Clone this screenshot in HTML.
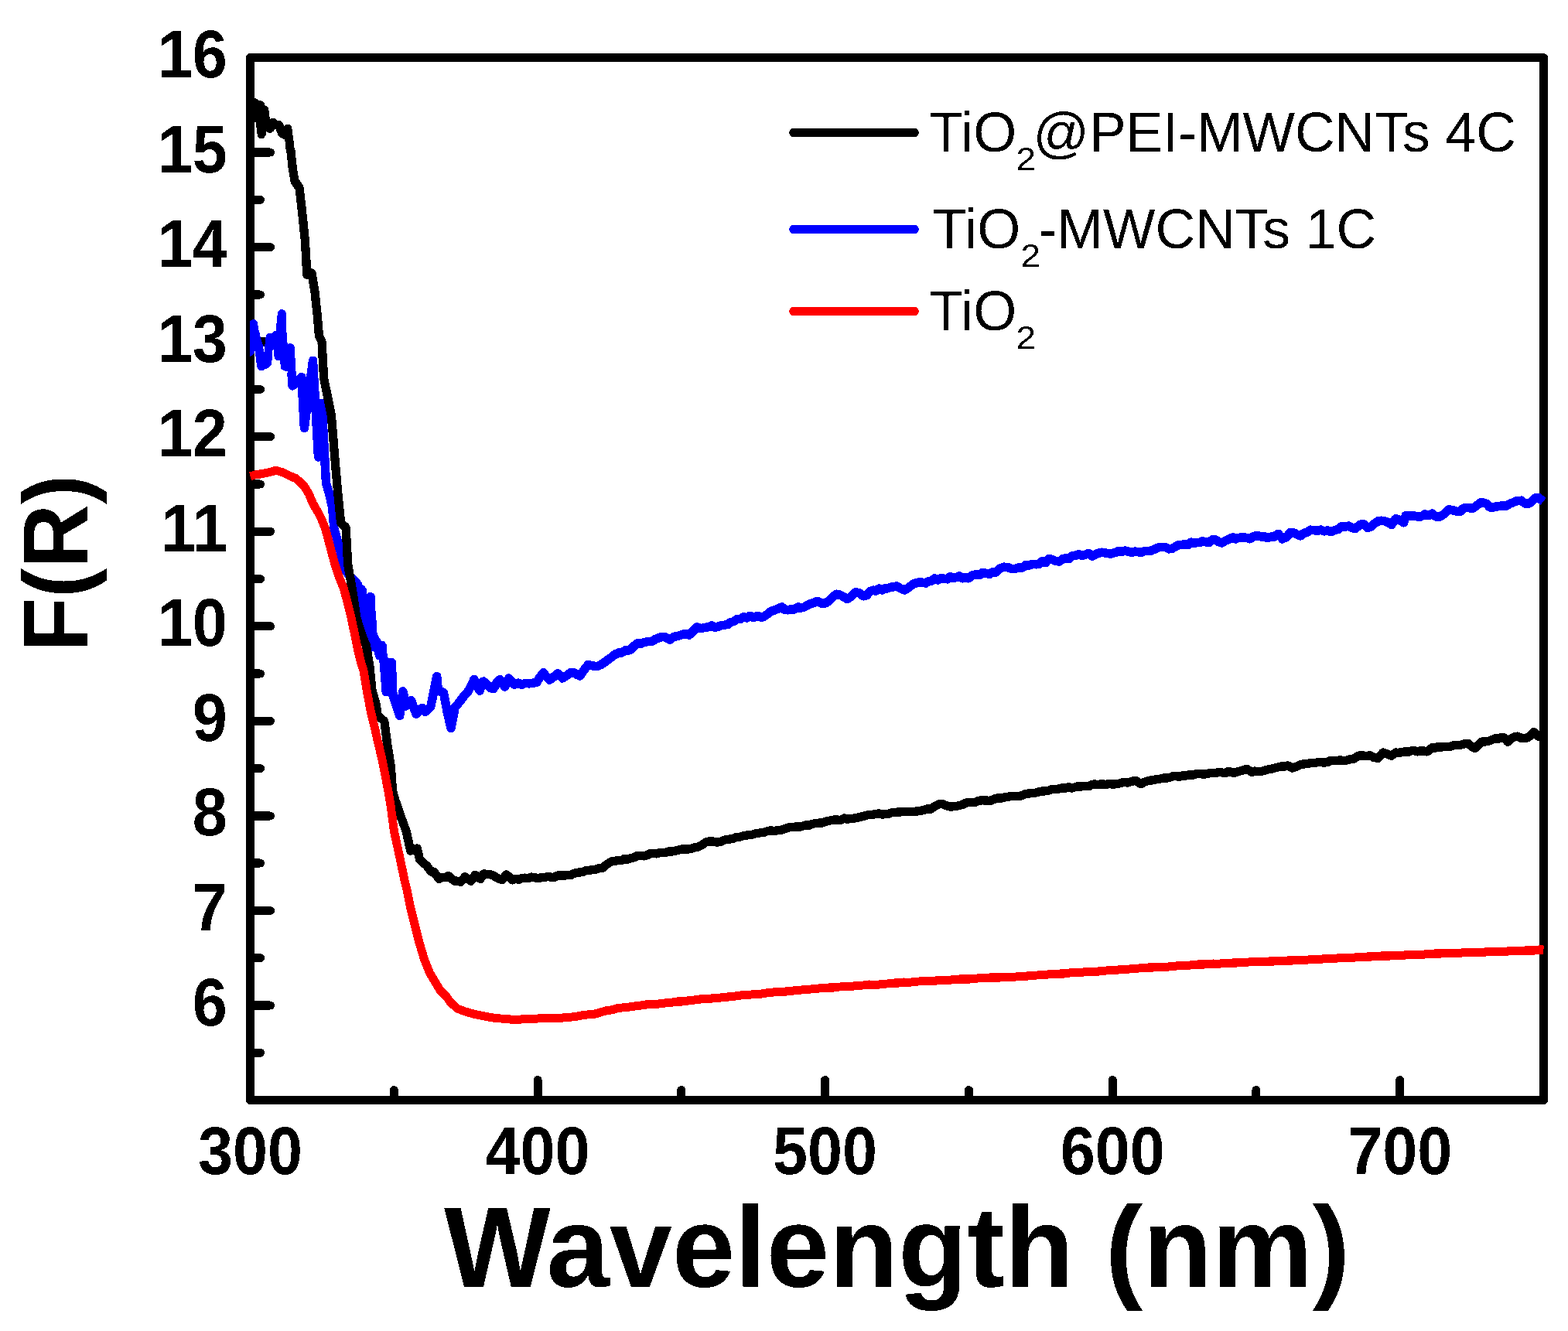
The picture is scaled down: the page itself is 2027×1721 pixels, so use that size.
<!DOCTYPE html>
<html><head><meta charset="utf-8"><title>F(R) vs Wavelength</title>
<style>html,body{margin:0;padding:0;background:#fff;}body{width:2027px;height:1721px;overflow:hidden;}svg{display:block;}</style>
</head><body>
<svg width="2027" height="1721" viewBox="0 0 2027 1721">
<defs><filter id="bin" x="0" y="0" width="2027" height="1721" filterUnits="userSpaceOnUse" color-interpolation-filters="sRGB"><feComponentTransfer><feFuncR type="discrete" tableValues="0 1"/><feFuncG type="discrete" tableValues="0 1"/><feFuncB type="discrete" tableValues="0 1"/></feComponentTransfer></filter></defs>
<g filter="url(#bin)">
<rect width="2027" height="1721" fill="#fff"/>
<rect x="323.5" y="74.5" width="1672.0" height="1348.0" fill="none" stroke="#000" stroke-width="11" stroke-linejoin="round"/>
<path d="M323.5 1300.0H349.5 M323.5 1177.4H349.5 M323.5 1054.9H349.5 M323.5 932.3H349.5 M323.5 809.8H349.5 M323.5 687.2H349.5 M323.5 564.7H349.5 M323.5 442.1H349.5 M323.5 319.6H349.5 M323.5 197.0H349.5 M323.5 1361.2H336.5 M323.5 1238.7H336.5 M323.5 1116.1H336.5 M323.5 993.6H336.5 M323.5 871.0H336.5 M323.5 748.5H336.5 M323.5 626.0H336.5 M323.5 503.4H336.5 M323.5 380.9H336.5 M323.5 258.3H336.5 M323.5 135.8H336.5 M695.1 1422.5V1396.5 M1066.6 1422.5V1396.5 M1438.2 1422.5V1396.5 M1809.7 1422.5V1396.5 M509.3 1422.5V1409.5 M880.8 1422.5V1409.5 M1252.4 1422.5V1409.5 M1623.9 1422.5V1409.5" stroke="#000" stroke-width="11" stroke-linecap="round" fill="none"/>
<path d="M377.0 482.0 L378.0 499.0 L389.8 487.5 L393.4 553.4 L404.5 466.3 L411.5 591.0 L416.0 521.7 L421.5 625.0 L425.6 638.0 L429.7 656.6 L431.8 682.7 L436.0 698.4 L441.2 719.3 L445.4 735.0 L452.0 745.0 L462.0 755.0 L470.0 780.0 L478.0 800.0 L482.0 820.0 L490.0 840.0 L496.0 852.0 L499.2 894.7 L506.3 856.8 L507.9 898.7 L516.6 925.5 L520.9 893.9 L525.2 912.9 L531.6 905.8 L537.9 923.1 L545.8 915.2 L549.7 920.4 L556.8 913.7 L564.7 874.6 L566.3 893.1 L573.4 895.5 L578.1 920.2 L582.9 941.3 L588.4 913.7 L593.1 908.9 L600.2 899.5 L605.8 893.1 L612.9 878.5 L620.0 893.1 L624.7 880.9 L630.0 885.2 L634.0 889.6 L638.0 890.5 L642.1 882.7 L646.3 878.4 L652.5 888.0 L657.7 876.9 L665.0 885.3 L669.8 883.0 L674.7 885.3 L679.5 883.3 L684.3 883.9 L689.2 883.2 L694.0 882.2 L698.1 875.2 L702.3 869.8 L706.4 874.9 L710.5 879.1 L715.7 875.4 L720.9 870.8 L727.1 877.0 L732.3 873.7 L737.5 869.8 L741.6 869.8 L745.8 872.3 L749.9 873.9 L755.1 866.2 L760.3 859.4 L764.4 860.3 L768.6 861.4 L772.8 861.2 L776.9 859.4 L782.0 856.0 L787.2 852.2 L791.4 848.9 L795.5 846.0 L799.6 844.0 L803.8 843.9 L809.0 840.5 L814.2 840.8 L820.4 834.6 L824.1 831.7 L827.8 832.4 L831.6 830.8 L835.3 830.0 L839.0 829.4 L843.1 829.4 L847.3 826.4 L851.5 825.0 L855.6 823.2 L860.8 824.2 L866.0 827.3 L870.8 823.3 L875.7 822.5 L880.5 821.1 L885.6 819.6 L890.8 821.1 L896.0 815.9 L901.2 810.7 L906.0 812.7 L910.9 811.4 L915.7 810.7 L919.9 808.9 L924.0 811.3 L928.1 810.4 L932.3 808.7 L936.4 808.2 L940.6 807.5 L944.7 804.5 L948.9 803.5 L953.0 800.4 L957.1 800.5 L961.3 797.7 L965.5 799.2 L969.6 796.2 L974.4 798.7 L979.3 796.2 L984.1 798.3 L987.9 797.0 L991.6 794.5 L995.4 791.3 L999.2 789.5 L1003.1 788.2 L1006.9 786.5 L1010.8 784.9 L1014.6 788.5 L1018.5 788.7 L1022.8 787.6 L1027.0 787.9 L1031.3 784.9 L1035.6 786.0 L1039.8 785.0 L1044.1 782.3 L1048.4 780.4 L1052.7 779.2 L1057.0 777.2 L1062.1 780.2 L1067.2 779.8 L1071.9 776.8 L1076.6 772.0 L1081.3 768.2 L1086.0 769.2 L1090.7 771.8 L1095.4 774.6 L1100.6 770.9 L1105.7 765.7 L1110.8 766.9 L1116.0 770.8 L1120.3 769.9 L1124.5 764.7 L1128.8 763.1 L1132.7 764.1 L1136.5 761.0 L1140.3 763.0 L1144.2 760.5 L1148.0 760.7 L1151.9 759.3 L1155.8 758.7 L1159.6 758.0 L1164.7 761.2 L1169.8 763.1 L1174.9 759.6 L1180.1 755.4 L1184.2 753.9 L1188.3 752.7 L1192.4 753.1 L1196.5 754.0 L1200.6 751.5 L1204.4 751.0 L1208.3 747.9 L1212.2 749.9 L1216.0 747.7 L1220.1 748.3 L1224.2 748.8 L1228.3 745.7 L1232.4 747.6 L1236.5 746.4 L1240.3 745.0 L1244.2 747.7 L1248.1 746.5 L1251.9 747.7 L1257.1 744.1 L1262.2 742.6 L1266.5 743.7 L1270.7 740.2 L1275.0 741.4 L1279.3 742.3 L1283.5 739.4 L1287.8 740.0 L1293.0 734.9 L1298.1 733.1 L1303.2 733.6 L1308.3 735.8 L1313.5 734.9 L1317.8 733.7 L1322.1 734.0 L1326.3 730.4 L1330.6 730.9 L1334.9 729.3 L1339.2 729.7 L1343.3 729.1 L1347.4 725.5 L1351.5 727.7 L1355.6 722.7 L1359.7 723.3 L1364.8 725.5 L1369.9 725.9 L1374.0 722.4 L1378.1 721.8 L1382.3 722.5 L1386.4 718.4 L1390.5 718.2 L1394.8 716.7 L1399.0 718.5 L1403.3 717.1 L1407.6 715.5 L1411.8 719.1 L1416.1 716.9 L1420.4 715.1 L1424.7 714.2 L1428.9 715.0 L1433.2 715.7 L1437.5 715.8 L1441.8 714.4 L1446.1 712.6 L1450.3 713.3 L1454.6 711.9 L1458.9 713.3 L1463.1 714.4 L1467.4 713.1 L1471.6 713.9 L1475.8 714.3 L1480.0 712.5 L1484.2 712.5 L1488.4 711.9 L1492.5 710.2 L1496.7 708.2 L1500.9 707.3 L1506.2 707.5 L1511.4 709.9 L1515.6 709.2 L1519.8 706.6 L1523.9 704.4 L1528.1 704.5 L1532.3 703.4 L1536.0 704.5 L1539.8 701.1 L1543.5 702.6 L1547.2 701.4 L1550.9 701.5 L1554.7 699.7 L1558.4 700.7 L1562.8 701.7 L1567.1 698.0 L1571.5 698.1 L1575.4 700.5 L1579.3 702.0 L1584.5 699.1 L1589.8 696.8 L1593.5 694.9 L1597.3 697.0 L1601.0 695.4 L1604.7 695.0 L1608.4 694.9 L1612.2 695.4 L1615.9 696.8 L1621.2 693.2 L1626.4 692.9 L1630.3 693.8 L1634.2 693.6 L1638.2 695.8 L1642.1 694.2 L1647.3 694.0 L1652.5 690.3 L1657.8 696.8 L1663.0 694.6 L1668.2 688.5 L1672.6 688.9 L1676.9 691.2 L1681.3 692.9 L1685.7 689.3 L1690.0 688.1 L1694.4 685.1 L1698.8 685.6 L1703.1 686.3 L1707.5 685.1 L1711.8 686.8 L1716.2 685.9 L1720.5 687.7 L1725.1 685.7 L1729.7 684.5 L1734.2 680.8 L1738.8 681.1 L1743.2 680.1 L1747.5 682.5 L1751.9 683.7 L1757.2 678.9 L1762.4 677.2 L1767.6 682.4 L1772.2 681.0 L1776.8 676.8 L1781.3 674.0 L1785.9 673.3 L1790.2 673.8 L1794.6 675.7 L1798.9 678.5 L1804.2 670.7 L1809.4 672.2 L1814.6 675.9 L1817.3 666.8 L1821.2 667.2 L1825.1 667.3 L1829.0 667.0 L1832.9 668.1 L1837.5 667.7 L1842.1 664.9 L1846.6 666.7 L1851.2 664.1 L1856.5 668.0 L1861.7 668.1 L1867.0 664.4 L1872.2 658.9 L1876.1 659.3 L1880.0 660.2 L1883.9 661.2 L1887.8 661.5 L1891.8 657.1 L1895.7 656.3 L1899.6 656.6 L1903.5 657.6 L1908.8 653.8 L1914.0 649.8 L1917.9 650.1 L1921.8 651.4 L1925.8 655.9 L1929.7 656.3 L1934.0 654.9 L1938.4 654.6 L1942.7 653.7 L1947.1 654.1 L1951.4 651.5 L1955.8 649.8 L1961.0 647.6 L1966.3 647.1 L1971.5 651.0 L1976.7 651.1 L1980.6 648.0 L1984.6 643.9 L1988.5 643.2 L1995.0 648.5" stroke="#0000ff" stroke-width="11.5" fill="none" stroke-linejoin="round" stroke-linecap="butt"/>
<path d="M323.0 415.1 L325.7 413.4 L329.2 413.1 L332.2 415.4 L333.1 417.5 L333.7 422.2 L334.6 427.0 L335.8 431.1 L336.9 436.4 L340.2 447.7 L340.8 454.8 L342.0 454.8 L342.3 447.1 L343.2 437.6 L344.1 432.9 L346.4 431.1 L351.7 431.1 L354.4 428.2 L357.1 428.2 L357.1 422.2 L358.3 409.2 L359.1 403.0 L361.8 400.6 L364.2 400.0 L367.7 400.9 L369.5 403.9 L370.1 421.1 L371.0 440.0 L371.9 445.0 L374.2 444.1 L377.2 444.4 L379.6 446.2 L380.8 448.3 L381.4 461.3 L382.2 474.9 L382.8 485.0 L382.8 487.4 L371.9 487.4 L371.9 480.0 L368.3 479.7 L363.0 476.7 L362.1 465.5 L357.1 465.5 L355.3 463.7 L354.1 460.1 L353.8 451.8 L352.9 451.8 L352.0 455.4 L351.7 463.7 L350.9 472.0 L348.8 474.3 L346.4 476.1 L342.9 477.3 L340.5 478.8 L335.2 478.8 L332.8 476.7 L332.2 472.6 L331.0 466.0 L330.1 457.2 L329.0 451.2 L329.0 456.6 L325.7 460.1 L323.0 460.7Z M459.2 745.0 L460.6 751.3 L462.0 761.0 L463.4 758.6 L467.6 757.2 L471.0 757.6 L473.5 761.0 L474.2 768.0 L475.9 766.3 L479.4 765.9 L482.9 767.3 L484.6 770.1 L485.0 784.1 L486.4 800.1 L487.1 816.8 L487.8 823.1 L491.3 825.9 L492.7 828.7 L496.8 829.4 L499.6 832.9 L500.3 841.9 L501.0 851.7 L503.8 851.0 L509.4 851.7 L510.8 853.8 L511.5 865.0 L492.0 865.0 L491.3 862.2 L490.6 853.8 L487.1 852.4 L485.0 849.6 L483.6 842.6 L479.8 841.9 L475.9 835.7 L472.4 821.7 L468.9 814.0 L465.5 793.8 L462.0 772.9 L458.5 752.0 L457.1 745.0Z" fill="#0000ff"/>
<path d="M323.5 126.8 L328.9 126.8 L331.8 127.8 L336.3 131.0 L339.7 131.0 L342.2 133.5 L342.2 136.2 L344.6 137.2 L347.1 139.4 L348.1 149.0 L349.1 154.0 L350.1 153.0 L356.0 153.0 L359.0 156.0 L362.9 156.0 L365.9 159.4 L367.3 163.1 L369.3 161.1 L374.7 161.1 L377.0 163.3 L377.7 168.3 L378.7 176.2 L379.7 184.1 L380.9 195.0 L381.2 198.0 L370.2 198.0 L370.0 195.0 L369.3 192.0 L368.8 184.1 L367.8 180.1 L363.9 178.6 L359.9 175.7 L357.5 169.8 L357.0 166.8 L355.5 166.8 L353.5 169.8 L350.6 171.7 L347.6 171.7 L343.9 169.8 L343.7 174.7 L340.7 178.9 L335.3 178.9 L333.0 176.7 L332.3 171.7 L331.3 162.9 L331.1 157.9 L323.5 157.9Z" fill="#000"/>
<path d="M375.6 192.0 L378.3 217.7 L381.0 234.0 L387.0 243.0 L390.2 270.6 L394.1 308.3 L396.0 338.5 L396.5 355.0 L403.0 353.0 L406.8 376.0 L410.1 406.4 L412.4 434.0 L416.0 442.0 L418.6 488.8 L423.5 513.2 L428.4 537.6 L432.4 586.4 L436.5 635.2 L440.6 676.0 L447.1 682.0 L449.7 729.7 L455.8 764.6 L461.0 799.5 L468.0 822.0 L473.5 835.0 L477.9 861.6 L481.0 893.1 L485.8 908.9 L488.2 924.7 L496.8 932.6 L500.4 960.0 L505.3 991.4 L507.5 1022.7 L511.0 1035.0 L514.0 1043.0 L518.7 1057.3 L525.2 1075.0 L528.5 1090.0 L530.7 1100.1 L539.1 1097.0 L542.7 1111.6 L552.2 1120.0 L557.4 1127.3 L560.9 1127.1 L567.6 1136.4 L571.6 1134.3 L575.6 1134.5 L579.6 1132.4 L583.6 1136.3 L587.6 1139.1 L591.6 1139.2 L595.6 1140.4 L601.0 1133.8 L605.0 1136.4 L609.0 1139.1 L614.3 1131.1 L621.0 1136.4 L625.0 1129.8 L630.4 1130.3 L635.7 1131.1 L640.2 1133.7 L644.6 1136.2 L649.1 1137.8 L654.4 1131.1 L658.4 1133.6 L662.4 1137.8 L666.4 1136.1 L670.5 1137.2 L674.5 1135.6 L678.5 1135.1 L682.8 1135.6 L687.1 1133.9 L691.3 1134.8 L695.6 1135.3 L699.9 1134.8 L704.7 1134.2 L708.8 1133.3 L712.9 1134.5 L717.0 1134.1 L721.1 1131.9 L725.2 1131.6 L729.3 1132.3 L733.4 1131.6 L737.5 1131.6 L741.6 1129.5 L745.8 1128.3 L749.9 1128.0 L754.0 1127.3 L758.1 1125.4 L762.2 1125.1 L766.4 1124.7 L770.5 1124.0 L774.6 1122.6 L778.7 1122.4 L782.8 1118.9 L786.9 1116.0 L791.0 1113.8 L795.1 1113.3 L799.2 1112.5 L803.3 1112.5 L807.4 1110.4 L811.5 1111.2 L815.6 1109.6 L819.8 1108.7 L823.9 1106.7 L828.0 1106.4 L832.1 1106.9 L836.2 1106.0 L840.4 1103.7 L844.5 1103.6 L848.6 1103.8 L852.7 1102.7 L856.8 1102.5 L860.9 1102.4 L865.0 1100.7 L869.1 1101.0 L873.2 1100.0 L877.3 1099.0 L881.4 1098.0 L885.5 1098.0 L889.6 1098.0 L893.8 1097.3 L897.9 1095.9 L902.0 1095.3 L906.9 1093.0 L911.9 1089.3 L916.8 1087.9 L921.8 1087.9 L926.7 1089.1 L930.8 1088.7 L934.9 1086.8 L939.0 1085.3 L943.1 1085.1 L947.2 1084.4 L951.3 1082.9 L955.4 1082.5 L959.5 1081.0 L963.6 1080.3 L967.8 1079.7 L971.9 1079.4 L976.0 1078.0 L980.1 1077.4 L984.2 1076.5 L988.4 1076.1 L992.5 1074.5 L996.6 1073.9 L1000.7 1074.3 L1004.8 1073.9 L1008.9 1073.7 L1013.0 1072.1 L1017.1 1070.8 L1021.2 1069.5 L1025.3 1069.4 L1029.4 1068.8 L1033.5 1069.2 L1037.7 1068.1 L1041.8 1067.0 L1045.9 1067.1 L1050.0 1065.7 L1054.1 1064.3 L1058.2 1064.1 L1062.3 1064.2 L1066.5 1062.5 L1070.6 1061.4 L1074.7 1060.7 L1078.8 1059.8 L1082.9 1060.0 L1087.0 1060.5 L1091.1 1058.0 L1095.2 1059.3 L1099.3 1058.3 L1103.4 1058.2 L1107.5 1057.5 L1111.7 1056.3 L1115.8 1055.6 L1119.9 1054.2 L1124.0 1053.3 L1128.1 1053.2 L1132.2 1052.7 L1136.3 1051.7 L1140.5 1053.3 L1144.6 1052.5 L1148.7 1052.1 L1152.5 1050.7 L1156.2 1050.7 L1160.0 1050.0 L1164.3 1049.8 L1168.7 1049.4 L1173.0 1049.3 L1177.4 1049.6 L1181.7 1049.4 L1186.0 1049.0 L1190.4 1048.3 L1194.7 1047.3 L1199.1 1045.7 L1203.4 1046.1 L1208.8 1042.3 L1214.3 1039.6 L1218.6 1039.7 L1222.9 1041.4 L1227.3 1042.9 L1231.6 1042.9 L1235.9 1042.5 L1240.3 1041.4 L1244.6 1040.3 L1249.0 1038.0 L1253.3 1037.4 L1257.3 1037.8 L1261.3 1037.1 L1265.2 1035.4 L1269.2 1034.9 L1273.2 1034.6 L1277.2 1035.3 L1281.5 1035.0 L1285.9 1033.0 L1290.2 1031.8 L1294.6 1032.1 L1298.9 1030.9 L1303.2 1030.3 L1307.6 1029.4 L1312.0 1029.3 L1316.3 1029.8 L1320.6 1028.8 L1324.9 1026.9 L1329.3 1026.1 L1333.6 1025.5 L1338.0 1025.3 L1342.3 1024.1 L1346.7 1023.1 L1351.0 1022.8 L1355.4 1022.2 L1359.7 1020.5 L1364.1 1020.7 L1368.4 1020.1 L1372.8 1019.0 L1377.1 1019.0 L1381.4 1017.7 L1385.8 1019.0 L1390.1 1017.7 L1394.5 1016.6 L1398.8 1016.8 L1403.1 1016.6 L1407.5 1016.6 L1411.8 1014.4 L1416.2 1014.0 L1420.5 1014.6 L1424.8 1013.6 L1429.2 1014.7 L1433.5 1013.3 L1437.9 1014.3 L1442.2 1013.6 L1445.9 1013.4 L1449.6 1012.4 L1453.3 1011.1 L1457.1 1012.1 L1460.8 1011.1 L1464.5 1009.9 L1468.2 1009.2 L1474.7 1013.6 L1480.2 1010.8 L1485.6 1009.2 L1489.9 1008.9 L1494.3 1007.7 L1498.6 1007.4 L1503.0 1006.2 L1507.3 1006.0 L1511.6 1005.6 L1516.0 1003.7 L1520.3 1003.6 L1524.7 1004.4 L1529.0 1002.7 L1533.3 1003.1 L1537.7 1001.4 L1542.0 1002.2 L1546.4 1000.5 L1550.7 1000.5 L1555.0 1001.3 L1559.4 1000.6 L1563.7 999.7 L1568.1 999.2 L1572.4 999.5 L1576.2 998.2 L1580.0 999.1 L1584.2 999.6 L1588.5 997.4 L1592.7 998.8 L1597.0 998.8 L1601.2 997.4 L1606.5 996.0 L1611.8 994.2 L1618.2 998.4 L1622.4 997.0 L1626.7 997.8 L1630.9 997.3 L1635.1 996.0 L1639.4 994.9 L1643.6 994.2 L1647.9 993.1 L1652.1 992.1 L1656.4 991.0 L1660.6 991.1 L1664.9 989.9 L1671.2 993.1 L1674.9 991.6 L1678.7 989.8 L1682.4 988.3 L1686.1 987.8 L1690.3 987.7 L1694.6 986.5 L1698.8 986.5 L1703.1 985.7 L1707.3 985.7 L1711.5 986.1 L1715.8 985.7 L1720.0 983.4 L1724.3 983.4 L1728.5 983.6 L1732.7 982.8 L1737.0 983.8 L1741.2 983.0 L1745.5 981.6 L1749.7 981.5 L1756.1 977.2 L1759.8 976.4 L1763.5 977.3 L1767.2 977.5 L1770.9 976.6 L1776.2 979.5 L1781.5 980.4 L1787.9 973.0 L1793.2 974.8 L1798.5 977.2 L1804.9 973.0 L1808.7 973.4 L1812.5 972.6 L1816.4 971.7 L1820.2 972.4 L1824.0 970.9 L1828.2 970.5 L1832.5 971.8 L1836.7 970.6 L1841.0 971.0 L1845.2 971.9 L1851.5 966.6 L1855.2 967.2 L1859.0 965.4 L1862.7 966.3 L1866.4 965.5 L1870.6 965.3 L1874.9 965.4 L1879.1 963.9 L1883.4 963.5 L1887.6 963.4 L1892.9 961.9 L1898.2 961.3 L1902.5 965.3 L1906.7 967.7 L1911.0 963.7 L1915.2 959.2 L1920.1 959.1 L1925.1 957.9 L1930.0 956.0 L1933.7 954.7 L1937.5 955.1 L1941.2 953.6 L1944.9 953.9 L1949.1 959.2 L1953.3 955.0 L1957.6 952.8 L1961.8 952.1 L1966.1 954.2 L1970.3 954.3 L1974.6 953.9 L1978.8 950.9 L1983.0 946.5 L1989.4 952.8 L1995.5 951.0" stroke="#000" stroke-width="11.3" fill="none" stroke-linejoin="round" stroke-linecap="butt"/>
<path d="M323.5 615.7 L330.8 613.7 L340.7 612.2 L348.1 610.7 L356.5 608.3 L365.3 610.7 L375.2 615.7 L382.6 618.6 L389.0 624.5 L393.1 628.4 L399.4 638.8 L404.6 651.4 L410.9 661.8 L416.1 672.3 L420.3 682.7 L424.5 698.4 L428.7 714.1 L432.9 729.8 L438.1 745.5 L444.4 761.2 L448.6 776.9 L453.8 797.8 L458.0 817.5 L462.5 840.0 L467.0 858.0 L470.0 867.0 L474.5 895.0 L479.5 921.0 L484.2 940.0 L488.6 960.0 L493.5 980.0 L497.8 1001.8 L501.7 1022.0 L505.3 1043.7 L509.5 1075.0 L516.3 1106.4 L522.9 1137.8 L525.9 1150.0 L530.4 1172.7 L536.1 1195.4 L541.8 1218.1 L548.6 1240.8 L555.4 1257.8 L562.2 1269.1 L569.0 1280.5 L576.9 1288.4 L582.6 1296.4 L591.7 1304.3 L600.8 1307.7 L612.1 1311.1 L623.5 1313.4 L634.8 1315.7 L651.8 1317.4 L666.6 1318.5 L680.2 1317.4 L702.9 1316.7 L710.5 1316.3 L718.0 1316.5 L725.6 1316.3 L732.2 1315.4 L738.8 1314.9 L745.4 1314.2 L751.9 1312.9 L758.5 1312.1 L765.1 1311.8 L771.6 1310.5 L778.1 1308.3 L784.7 1306.7 L791.2 1305.8 L797.7 1303.7 L804.2 1302.9 L810.7 1302.5 L817.2 1301.3 L823.7 1300.7 L830.2 1299.8 L836.7 1298.8 L843.2 1298.6 L849.8 1298.2 L856.3 1297.2 L862.8 1296.8 L869.3 1296.1 L875.8 1294.8 L882.4 1294.9 L888.9 1294.0 L895.4 1293.3 L901.9 1292.5 L908.4 1291.5 L914.9 1291.7 L921.4 1290.7 L928.0 1290.3 L934.5 1289.8 L941.0 1289.0 L947.5 1288.5 L954.0 1287.3 L960.5 1286.8 L967.0 1286.5 L973.5 1285.6 L980.0 1285.5 L986.5 1284.8 L993.0 1283.4 L999.6 1282.9 L1006.1 1282.4 L1012.6 1282.5 L1019.1 1281.4 L1025.6 1280.9 L1032.1 1280.5 L1038.6 1279.6 L1045.2 1279.3 L1051.7 1278.6 L1058.2 1278.0 L1064.7 1277.7 L1071.2 1277.1 L1077.8 1276.9 L1084.3 1276.1 L1090.8 1275.4 L1097.3 1275.4 L1103.8 1274.9 L1110.3 1274.6 L1116.8 1273.9 L1123.3 1272.9 L1129.9 1273.2 L1136.4 1272.9 L1142.9 1272.4 L1149.4 1271.6 L1155.9 1271.1 L1162.4 1270.9 L1168.9 1270.0 L1175.4 1270.3 L1181.9 1269.6 L1188.5 1268.9 L1195.0 1268.3 L1201.5 1268.7 L1208.0 1268.5 L1214.5 1267.2 L1221.0 1267.2 L1227.5 1267.2 L1234.0 1266.5 L1240.5 1265.9 L1247.0 1265.7 L1253.5 1265.9 L1260.1 1265.7 L1266.6 1264.5 L1273.1 1264.8 L1279.6 1263.9 L1286.1 1264.0 L1292.8 1263.9 L1299.6 1263.1 L1306.3 1263.3 L1313.0 1263.0 L1319.8 1262.2 L1326.5 1262.3 L1333.3 1261.3 L1340.0 1261.1 L1346.0 1260.3 L1352.0 1260.4 L1358.0 1259.5 L1364.0 1259.2 L1370.0 1259.1 L1376.1 1258.9 L1382.1 1258.0 L1388.1 1257.5 L1394.1 1257.9 L1400.1 1257.0 L1406.1 1256.8 L1412.1 1256.8 L1418.1 1256.3 L1424.1 1255.3 L1430.1 1255.0 L1436.1 1254.6 L1442.2 1254.3 L1448.2 1253.8 L1454.2 1253.3 L1460.2 1252.9 L1466.2 1252.8 L1472.2 1251.9 L1478.2 1251.5 L1484.2 1251.1 L1490.2 1251.0 L1496.2 1250.2 L1502.2 1249.9 L1508.3 1250.2 L1514.3 1249.4 L1520.3 1249.0 L1526.3 1248.1 L1532.3 1248.2 L1538.3 1247.9 L1544.3 1247.7 L1550.3 1246.8 L1556.4 1247.1 L1562.4 1246.8 L1568.4 1246.0 L1574.4 1246.2 L1580.4 1245.8 L1586.4 1245.7 L1592.5 1245.1 L1598.5 1245.1 L1604.5 1244.6 L1610.5 1244.6 L1616.5 1243.6 L1622.5 1243.5 L1628.5 1243.8 L1634.5 1243.9 L1640.6 1242.9 L1646.6 1242.9 L1652.6 1242.8 L1658.6 1242.3 L1664.6 1242.1 L1670.6 1242.0 L1676.6 1241.5 L1682.6 1241.3 L1688.6 1241.2 L1694.6 1240.6 L1700.6 1240.4 L1706.7 1240.5 L1712.7 1239.4 L1718.7 1239.7 L1724.7 1239.5 L1730.7 1238.8 L1736.7 1238.7 L1742.7 1238.1 L1748.7 1238.4 L1754.7 1237.5 L1760.7 1237.2 L1766.7 1237.1 L1772.8 1237.1 L1778.8 1236.2 L1784.8 1236.1 L1790.8 1235.8 L1796.8 1236.0 L1802.8 1235.4 L1808.8 1235.1 L1814.8 1235.3 L1820.8 1234.3 L1826.8 1234.3 L1832.8 1234.3 L1838.9 1234.3 L1844.9 1233.6 L1850.9 1233.2 L1856.9 1232.8 L1862.9 1233.0 L1868.9 1232.7 L1874.9 1232.2 L1880.9 1232.6 L1886.9 1232.4 L1892.9 1231.5 L1898.9 1231.4 L1905.0 1231.8 L1911.0 1231.4 L1917.0 1231.3 L1923.0 1230.7 L1929.0 1230.2 L1935.0 1230.4 L1941.0 1230.0 L1947.1 1230.2 L1953.2 1229.5 L1959.2 1229.3 L1965.2 1229.2 L1971.3 1228.9 L1977.3 1228.7 L1983.4 1229.0 L1989.5 1228.0 L1995.5 1228.1" stroke="#ff0000" stroke-width="11" fill="none" stroke-linejoin="round" stroke-linecap="butt"/>
<text font-family="&quot;Liberation Sans&quot;, sans-serif" font-weight="bold" font-size="83.5" text-anchor="end" transform="translate(293.9,1325.5) scale(0.97,1.0407)">6</text>
<text font-family="&quot;Liberation Sans&quot;, sans-serif" font-weight="bold" font-size="83.5" text-anchor="end" transform="translate(293.9,1202.9) scale(0.97,1.0407)">7</text>
<text font-family="&quot;Liberation Sans&quot;, sans-serif" font-weight="bold" font-size="83.5" text-anchor="end" transform="translate(293.9,1080.4) scale(0.97,1.0407)">8</text>
<text font-family="&quot;Liberation Sans&quot;, sans-serif" font-weight="bold" font-size="83.5" text-anchor="end" transform="translate(293.9,957.8) scale(0.97,1.0407)">9</text>
<text font-family="&quot;Liberation Sans&quot;, sans-serif" font-weight="bold" font-size="83.5" text-anchor="end" transform="translate(293.9,835.3) scale(0.97,1.0407)">10</text>
<text font-family="&quot;Liberation Sans&quot;, sans-serif" font-weight="bold" font-size="83.5" text-anchor="end" transform="translate(293.9,712.7) scale(0.97,1.0407)">11</text>
<text font-family="&quot;Liberation Sans&quot;, sans-serif" font-weight="bold" font-size="83.5" text-anchor="end" transform="translate(293.9,590.2) scale(0.97,1.0407)">12</text>
<text font-family="&quot;Liberation Sans&quot;, sans-serif" font-weight="bold" font-size="83.5" text-anchor="end" transform="translate(293.9,467.6) scale(0.97,1.0407)">13</text>
<text font-family="&quot;Liberation Sans&quot;, sans-serif" font-weight="bold" font-size="83.5" text-anchor="end" transform="translate(293.9,345.1) scale(0.97,1.0407)">14</text>
<text font-family="&quot;Liberation Sans&quot;, sans-serif" font-weight="bold" font-size="83.5" text-anchor="end" transform="translate(293.9,222.5) scale(0.97,1.0407)">15</text>
<text font-family="&quot;Liberation Sans&quot;, sans-serif" font-weight="bold" font-size="83.5" text-anchor="end" transform="translate(293.9,100.0) scale(0.97,1.0407)">16</text>
<text font-family="&quot;Liberation Sans&quot;, sans-serif" font-weight="bold" font-size="83.5" text-anchor="middle" transform="translate(323.5,1517.5) scale(0.97,1.0407)">300</text>
<text font-family="&quot;Liberation Sans&quot;, sans-serif" font-weight="bold" font-size="83.5" text-anchor="middle" transform="translate(695.1,1517.5) scale(0.97,1.0407)">400</text>
<text font-family="&quot;Liberation Sans&quot;, sans-serif" font-weight="bold" font-size="83.5" text-anchor="middle" transform="translate(1066.6,1517.5) scale(0.97,1.0407)">500</text>
<text font-family="&quot;Liberation Sans&quot;, sans-serif" font-weight="bold" font-size="83.5" text-anchor="middle" transform="translate(1438.2,1517.5) scale(0.97,1.0407)">600</text>
<text font-family="&quot;Liberation Sans&quot;, sans-serif" font-weight="bold" font-size="83.5" text-anchor="middle" transform="translate(1809.7,1517.5) scale(0.97,1.0407)">700</text>
<text font-family="&quot;Liberation Sans&quot;, sans-serif" font-weight="bold" font-size="144.7" transform="translate(574,1663.6) scale(1.0095,1.025)">Wavelength (nm)</text>
<text font-family="&quot;Liberation Sans&quot;, sans-serif" font-weight="bold" font-size="114.5" transform="translate(112.9,842.8) rotate(-90) scale(1,1.0407)">F(R)</text>
<path d="M1026 171.6H1182" stroke="#000" stroke-width="11.5" stroke-linecap="round"/>
<text font-family="&quot;Liberation Sans&quot;, sans-serif" font-size="70" transform="translate(1200.9,196.1) scale(1.03,1.0407)">TiO</text>
<text font-family="&quot;Liberation Sans&quot;, sans-serif" font-size="42" transform="translate(1313.6,219.8) scale(1.095,1)">2</text>
<text font-family="&quot;Liberation Sans&quot;, sans-serif" font-size="70" transform="translate(1335.4,196.1) scale(1.0211,1.0407)">@PEI-MWCNTs 4C</text>
<path d="M1026 296.4H1182" stroke="#0000ff" stroke-width="11.5" stroke-linecap="round"/>
<text font-family="&quot;Liberation Sans&quot;, sans-serif" font-size="70" transform="translate(1205.8,321.2) scale(1.03,1.0407)">TiO</text>
<text font-family="&quot;Liberation Sans&quot;, sans-serif" font-size="42" transform="translate(1319.6,344.7) scale(1.095,1)">2</text>
<text font-family="&quot;Liberation Sans&quot;, sans-serif" font-size="70" transform="translate(1342.8,321.2) scale(1.0204,1.0407)">-MWCNTs 1C</text>
<path d="M1026 402.6H1182" stroke="#ff0000" stroke-width="11.5" stroke-linecap="round"/>
<text font-family="&quot;Liberation Sans&quot;, sans-serif" font-size="70" transform="translate(1200.9,427.3) scale(1.03,1.0407)">TiO</text>
<text font-family="&quot;Liberation Sans&quot;, sans-serif" font-size="42" transform="translate(1313.6,451.0) scale(1.095,1)">2</text>
</g>
</svg>
</body></html>
